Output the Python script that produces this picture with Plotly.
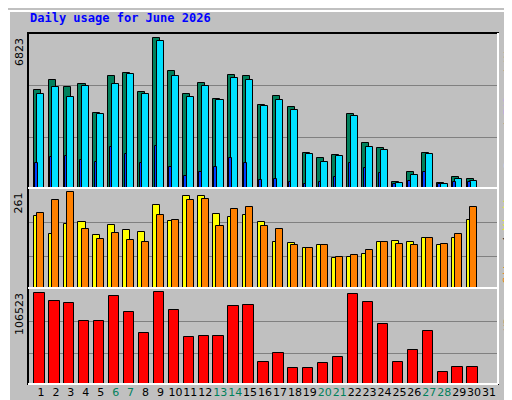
import plotly.graph_objects as go

days = list(range(1, 32))
weekends = [6, 7, 13, 14, 20, 21, 27, 28]

hits = [4464, 4881, 4603, 4696, 3396, 5067, 5206, 4371, 6823, 5299, 4278, 4742, 4046, 5113, 5067, 3768,
        4185, 3675, 1587, 1355, 1494, 3350, 2051, 1833, 288, 705, 1587, 241, 520, 427, 0]
files = [4278, 4603, 4139, 4649, 3350, 4696, 5160, 4278, 6691, 5067, 4139, 4649, 4000, 4974, 4881, 3721,
         4000, 3536, 1540, 1169, 1448, 3257, 1865, 1726, 241, 612, 1540, 195, 427, 334, 0]
pages = [1123, 1401, 1448, 1262, 1169, 1865, 1540, 1123, 1912, 937, 566, 705, 937, 1355, 1123, 380,
         427, 288, 195, 288, 520, 1123, 891, 659, 195, 334, 705, 195, 288, 288, 0]
sites = [196, 148, 176, 179, 145, 173, 159, 153, 227, 182, 250, 250, 202, 193, 199, 179,
         125, 122, 108, 117, 83, 86, 94, 125, 128, 125, 137, 117, 137, 185, 0]
visits = [204, 241, 261, 162, 134, 151, 131, 125, 199, 187, 241, 244, 170, 216, 221, 168,
          162, 117, 108, 117, 86, 91, 103, 125, 120, 117, 137, 120, 148, 221, 0]
kbytes = [105357, 96027, 93694, 72700, 72700, 101858, 83197, 58704, 106523, 85530, 54039, 55205, 55205,
          90195, 91361, 26048, 36544, 19050, 19050, 24881, 31879, 104191, 94860, 69201, 26048, 40043,
          61037, 14384, 20216, 20216, 0]

max_hits, max_sites, max_kb = 6823, 261, 106523

line = dict(color="black", width=1)
fig = go.Figure()
fig.add_trace(go.Bar(x=days, y=hits, yaxis="y", width=0.47, offset=-0.49, marker=dict(color="#00805c", line=line)))
fig.add_trace(go.Bar(x=days, y=files, yaxis="y", width=0.47, offset=-0.25, marker=dict(color="#00e0ff", line=line)))
fig.add_trace(go.Bar(x=days, y=pages, yaxis="y", width=0.17, offset=-0.4, marker=dict(color="#0040ff", line=line)))
fig.add_trace(go.Bar(x=days, y=sites, yaxis="y2", width=0.47, offset=-0.49, marker=dict(color="#ffff00", line=line)))
fig.add_trace(go.Bar(x=days, y=visits, yaxis="y2", width=0.47, offset=-0.25, marker=dict(color="#ff8000", line=line)))
fig.add_trace(go.Bar(x=days, y=kbytes, yaxis="y3", width=0.69, offset=-0.45, marker=dict(color="#ff0000", line=line)))

ticktext = [f"<span style='color:#00805c'>{d}</span>" if d in weekends else str(d) for d in days]


def yax(domain, top, grid):
    return dict(domain=domain, range=[0, top], tickvals=grid, ticktext=["", ""], showline=False,
                gridcolor="#808080", gridwidth=1, zeroline=False, ticks="", fixedrange=True,
                automargin=False)


fig.update_layout(
    width=512, height=400, margin=dict(l=20, r=22, t=25, b=24, autoexpand=False),
    paper_bgcolor="#c0c0c0", plot_bgcolor="#c0c0c0", barmode="overlay", showlegend=False,
    bargap=0,
    xaxis=dict(range=[0.13, 31.6], tickvals=days, ticktext=ticktext, showgrid=False, zeroline=False,
               tickangle=0, automargin=False,
               tickfont=dict(family="DejaVu Sans", size=11, color="black"), ticks="", anchor="y3"),
    yaxis=yax([0.5584, 1], 7032, [2297, 4631]),
    yaxis2=yax([0.2735, 0.5584], 273, [86, 179]),
    yaxis3=yax([0, 0.2735], 111534, [34960, 72700]),
    font=dict(family="DejaVu Sans Mono", size=11),
)

# panel frames
for y0, y1 in [(0.5584, 1), (0.2735, 0.5584), (0, 0.2735)]:
    fig.add_shape(type="rect", xref="paper", yref="paper", x0=0, x1=1, y0=y0, y1=y1,
                  line=dict(color="black", width=2))
for yv in [0.5584, 0.2735, 0]:
    fig.add_shape(type="line", xref="paper", yref="paper", x0=0, x1=1, y0=yv, y1=yv,
                  line=dict(color="white", width=2))
fig.add_shape(type="line", xref="paper", yref="paper", x0=1, x1=1, y0=0, y1=1, line=dict(color="white", width=2))
# outer border
fig.add_shape(type="rect", xref="paper", yref="paper", x0=-19 / 470, x1=489 / 470, y0=-22 / 351, y1=373 / 351,
              line=dict(color="white", width=2))
fig.add_shape(type="line", xref="paper", yref="paper", x0=489 / 470, x1=489 / 470, y0=-22 / 351, y1=373 / 351,
              line=dict(color="#808080", width=5))
fig.add_shape(type="line", xref="paper", yref="paper", x0=-19 / 470, x1=489 / 470, y0=-22 / 351, y1=-22 / 351,
              line=dict(color="#808080", width=5))

fig.add_annotation(text="<b>Daily usage for June 2026</b>", xref="paper", yref="paper", x=0, y=1, yshift=6,
                   xanchor="left", yanchor="bottom", showarrow=False,
                   font=dict(family="DejaVu Sans Mono", size=12, color="#0000ff"))
for yv, lab in [(1, str(max_hits)), (0.5584, str(max_sites)), (0.2735, str(max_kb))]:
    fig.add_annotation(text=lab, xref="paper", yref="paper", x=0, y=yv, xshift=-9, yshift=-3,
                       xanchor="center", yanchor="top", textangle=-90, showarrow=False,
                       font=dict(family="DejaVu Sans", size=11, color="black"))
right = [
    (1, "<span style='color:#00e0ff'>Pages</span> / <span style='color:#0040ff'>Files</span> / "
        "<span style='color:#00805c'>Hits</span>"),
    (0.5584, "<span style='color:#ff8000'>Sites</span> / <span style='color:#ffff00'>Visits</span>"),
    (0.2735, "<span style='color:#ff0000'>KBytes</span>"),
]
for yv, lab in right:
    fig.add_annotation(text=lab, xref="paper", yref="paper", x=1, y=yv, xshift=10, yshift=-1,
                       xanchor="center", yanchor="top", textangle=-90, showarrow=False,
                       font=dict(family="DejaVu Sans Mono", size=11, color="black"))

fig.write_html("out.html")
